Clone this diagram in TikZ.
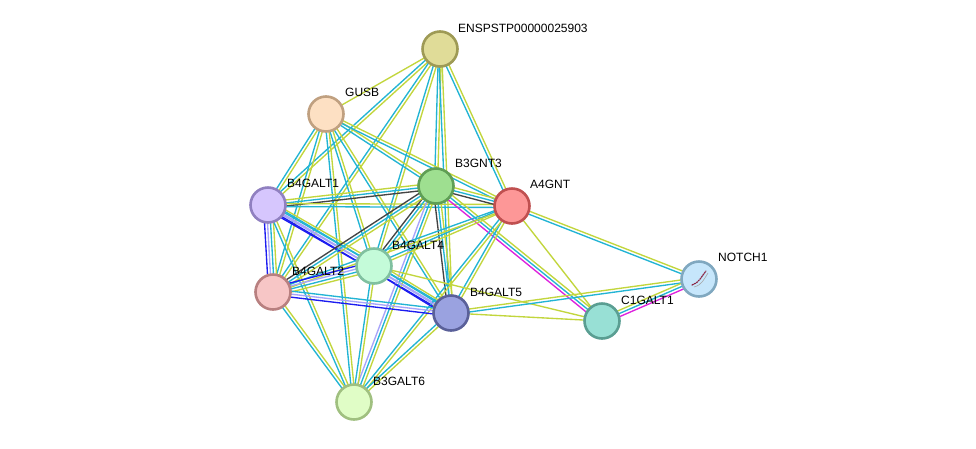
\documentclass[tikz,border=0pt]{standalone}
\usepackage{fontspec}
\setmainfont{Liberation Sans}
\usetikzlibrary{calc,backgrounds}
\definecolor{cdb}{HTML}{22B4D4}
\definecolor{ctm}{HTML}{C2D63C}
\definecolor{cbl}{HTML}{1C1CF0}
\definecolor{clv}{HTML}{A8A4FA}
\definecolor{cbk}{HTML}{444444}
\definecolor{cmg}{HTML}{DD22DD}
\definecolor{cstruct}{HTML}{8C2846}
\tikzset{
  prot/.style={circle,minimum size=35pt,inner sep=0pt,line width=2.6pt},
  lbl/.style={anchor=west,font=\fontsize{12}{14}\selectfont,text=black,inner sep=1pt},
  e/.style={line width=1.35pt}
}
\newcommand\pedge[4]{%
  \foreach \col [count=\i] in {#4}{%
    \pgfmathsetmacro\off{(\i-(#3+1)/2)*3.0}%
    \draw[e,\col] ($(#1.center)!\off pt!90:(#2.center)$) -- ($(#2.center)!\off pt!-90:(#1.center)$);}}
\begin{document}
\begin{tikzpicture}[x=1pt,y=-1pt]
\useasboundingbox (0,0) rectangle (976,448);
% nodes
\node[prot,fill={rgb,255:red,224;green,220;blue,152},draw={rgb,255:red,158;green,154;blue,85}] (ens) at (440,49) {};
\node[prot,fill={rgb,255:red,253;green,224;blue,195},draw={rgb,255:red,192;green,160;blue,128}] (gusb) at (326,114) {};
\node[prot,fill={rgb,255:red,158;green,223;blue,144},draw={rgb,255:red,95;green,158;blue,85}] (b3gnt3) at (436,186) {};
\node[prot,fill={rgb,255:red,253;green,151;blue,151},draw={rgb,255:red,192;green,80;blue,80}] (a4gnt) at (512,206) {};
\node[prot,fill={rgb,255:red,214;green,198;blue,253},draw={rgb,255:red,144;green,128;blue,192}] (b4galt1) at (268,205) {};
\node[prot,fill={rgb,255:red,196;green,251;blue,217},draw={rgb,255:red,128;green,192;blue,160}] (b4galt4) at (374,266) {};
\node[prot,fill={rgb,255:red,247;green,198;blue,198},draw={rgb,255:red,184;green,128;blue,128}] (b4galt2) at (273,292) {};
\node[prot,fill={rgb,255:red,154;green,162;blue,224},draw={rgb,255:red,90;green,96;blue,153}] (b4galt5) at (451,313) {};
\node[prot,fill={rgb,255:red,152;green,224;blue,213},draw={rgb,255:red,90;green,158;blue,146}] (c1galt1) at (602,321) {};
\node[prot,fill={rgb,255:red,198;green,230;blue,251},draw={rgb,255:red,128;green,168;blue,192}] (notch1) at (699,279) {};
\node[prot,fill={rgb,255:red,224;green,253;blue,198},draw={rgb,255:red,160;green,192;blue,128}] (b3galt6) at (354,402) {};
% NOTCH1 structure hint
\draw[line width=0.6pt,gray!70] ($(notch1.center)+(-5,8)$) .. controls ($(notch1.center)+(3,6)$) and ($(notch1.center)+(5,0)$) .. ($(notch1.center)+(9,-6)$);
\draw[line width=1.2pt,cstruct,dash pattern=on 1.5pt off 1pt,line cap=round] ($(notch1.center)+(-7,6)$) .. controls ($(notch1.center)+(0,4)$) and ($(notch1.center)+(2,-2)$) .. ($(notch1.center)+(7,-8)$);
% labels
\node[lbl] (l1) at ($(ens.center)+(17,-21)$) {ENSPSTP00000025903};
\node[lbl] (l2) at ($(gusb.center)+(18,-22)$) {GUSB};
\node[lbl] (l3) at ($(b3gnt3.center)+(18,-23)$) {B3GNT3};
\node[lbl] (l4) at ($(a4gnt.center)+(17,-22)$) {A4GNT};
\node[lbl] (l5) at ($(b4galt1.center)+(18,-22)$) {B4GALT1};
\node[lbl] (l6) at ($(b4galt4.center)+(17,-21)$) {B4GALT4};
\node[lbl] (l7) at ($(b4galt2.center)+(18,-21)$) {B4GALT2};
\node[lbl] (l8) at ($(b4galt5.center)+(18,-21)$) {B4GALT5};
\node[lbl] (l9) at ($(c1galt1.center)+(18,-21)$) {C1GALT1};
\node[lbl] (l10) at ($(notch1.center)+(18,-22)$) {NOTCH1};
\node[lbl] (l11) at ($(b3galt6.center)+(18,-21)$) {B3GALT6};
% edges
\begin{scope}[on background layer]
\fill[white] (0,0) rectangle (976,448);
\pedge{ens}{gusb}{1}{ctm}
\pedge{ens}{b4galt1}{2}{cdb,ctm}
\pedge{ens}{b4galt2}{2}{cdb,ctm}
\pedge{ens}{b4galt4}{2}{cdb,ctm}
\pedge{ens}{b3gnt3}{2}{cdb,ctm}
\pedge{ens}{b4galt5}{2}{cdb,ctm}
\pedge{ens}{a4gnt}{2}{cdb,ctm}
\pedge{gusb}{b4galt1}{2}{cdb,ctm}
\pedge{gusb}{b4galt2}{2}{cdb,ctm}
\pedge{gusb}{b4galt4}{2}{cdb,ctm}
\pedge{gusb}{b3gnt3}{2}{cdb,ctm}
\pedge{gusb}{a4gnt}{2}{cdb,ctm}
\pedge{gusb}{b4galt5}{2}{cdb,ctm}
\pedge{gusb}{b3galt6}{2}{cdb,ctm}
\pedge{b4galt1}{b3gnt3}{3}{cbk,cdb,ctm}
\pedge{b4galt1}{a4gnt}{2}{cdb,ctm}
\pedge{b4galt1}{b4galt4}{4}{cbl,clv,cdb,ctm}
\pedge{b4galt1}{b4galt2}{4}{cbl,clv,cdb,ctm}
\pedge{b4galt1}{b4galt5}{3}{cbl,clv,cdb}
\pedge{b4galt1}{b3galt6}{2}{cdb,ctm}
\pedge{b3gnt3}{a4gnt}{3}{cbk,cdb,ctm}
\pedge{b3gnt3}{b4galt4}{3}{cbk,cdb,ctm}
\pedge{b3gnt3}{b4galt2}{3}{cbk,cdb,ctm}
\pedge{b3gnt3}{b4galt5}{3}{cbk,cdb,ctm}
\pedge{b3gnt3}{c1galt1}{3}{cmg,cdb,ctm}
\pedge{b3gnt3}{b3galt6}{3}{clv,cdb,ctm}
\pedge{a4gnt}{b4galt4}{2}{cdb,ctm}
\pedge{a4gnt}{b4galt2}{2}{cdb,ctm}
\pedge{a4gnt}{b4galt5}{2}{cdb,ctm}
\pedge{a4gnt}{notch1}{2}{cdb,ctm}
\pedge{a4gnt}{c1galt1}{1}{ctm}
\pedge{a4gnt}{b3galt6}{2}{cdb,ctm}
\pedge{b4galt4}{b4galt2}{4}{cbl,clv,cdb,ctm}
\pedge{b4galt4}{b4galt5}{4}{cbl,clv,cdb,ctm}
\pedge{b4galt4}{b3galt6}{2}{cdb,ctm}
\pedge{b4galt4}{c1galt1}{1}{ctm}
\pedge{b4galt2}{b4galt5}{3}{cbl,clv,cdb}
\pedge{b4galt2}{b3galt6}{2}{cdb,ctm}
\pedge{b4galt5}{b3galt6}{2}{cdb,ctm}
\pedge{b4galt5}{notch1}{2}{cdb,ctm}
\pedge{b4galt5}{c1galt1}{1}{ctm}
\pedge{c1galt1}{notch1}{3}{cmg,cdb,ctm}
\end{scope}
\end{tikzpicture}
\end{document}
